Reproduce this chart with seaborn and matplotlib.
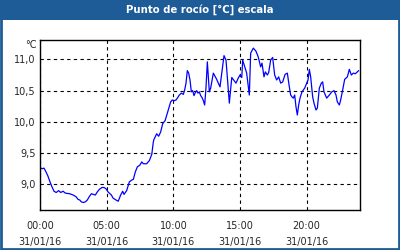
import matplotlib
matplotlib.use("Agg")
import matplotlib.pyplot as plt
import matplotlib.ticker as mticker
from matplotlib.patches import Rectangle
import pandas as pd
import seaborn as sns

TITLE = "Punto de rocío [°C] escala"
UNIT = "°C"
DATE = "31/01/16"

# minutes after midnight, 31/01/16
minutes = [
    0, 9, 18, 27, 36, 45, 54, 63, 73, 84, 93, 104, 114, 134, 149, 163, 171, 179,
    186, 195, 204, 213, 221, 231, 240, 249, 258, 267, 279, 288, 297, 306, 321,
    329, 342, 352, 363, 372, 378, 390, 402, 413, 420, 429, 438, 450, 458, 465,
    480, 492, 503, 510, 513, 525, 534, 543, 552, 563, 573, 581, 588, 595, 604,
    612, 620, 627, 636, 645, 651, 657, 663, 669, 675, 681, 687, 693, 699, 705,
    711, 717, 723, 729, 735, 741, 747, 753, 762, 768, 780, 795, 810, 828, 837,
    843, 852, 863, 882, 892, 900, 908, 912, 930, 942, 948, 960, 972, 982, 993,
    999, 1008, 1014, 1023, 1029, 1038, 1047, 1056, 1065, 1074, 1083, 1092, 1103,
    1113, 1122, 1128, 1134, 1140, 1146, 1152, 1158, 1164, 1170, 1179, 1191,
    1200, 1206, 1212, 1218, 1227, 1233, 1242, 1248, 1257, 1266, 1272, 1278,
    1290, 1302, 1313, 1323, 1332, 1338, 1347, 1353, 1362, 1371, 1383, 1392,
    1401, 1410, 1419, 1428, 1434,
]
dew_point = [
    9.27, 9.25, 9.26, 9.20, 9.13, 9.04, 8.96, 8.89, 8.87, 8.90, 8.87, 8.89, 8.86,
    8.85, 8.83, 8.80, 8.76, 8.75, 8.72, 8.71, 8.72, 8.75, 8.80, 8.85, 8.84, 8.83,
    8.88, 8.92, 8.95, 8.95, 8.93, 8.88, 8.83, 8.78, 8.75, 8.73, 8.83, 8.89, 8.84,
    8.90, 9.04, 9.07, 9.08, 9.20, 9.28, 9.31, 9.36, 9.33, 9.33, 9.38, 9.48, 9.68,
    9.72, 9.81, 9.77, 9.84, 9.97, 10.02, 10.14, 10.24, 10.32, 10.35, 10.34,
    10.35, 10.39, 10.43, 10.46, 10.44, 10.51, 10.62, 10.82, 10.78, 10.67, 10.48,
    10.50, 10.42, 10.47, 10.50, 10.46, 10.48, 10.42, 10.39, 10.34, 10.27, 10.55,
    10.96, 10.48, 10.54, 10.78, 10.68, 10.56, 11.06, 10.99, 10.72, 10.30, 10.71,
    10.62, 10.70, 10.75, 10.71, 10.99, 10.78, 10.43, 11.10, 11.18, 11.13, 11.04,
    10.88, 10.94, 10.72, 10.80, 10.75, 10.79, 10.99, 11.03, 10.75, 10.67, 10.72,
    10.62, 10.64, 10.76, 10.78, 10.56, 10.43, 10.40, 10.38, 10.43, 10.24, 10.11,
    10.27, 10.38, 10.48, 10.54, 10.62, 10.67, 10.84, 10.72, 10.40, 10.30, 10.19,
    10.22, 10.54, 10.62, 10.64, 10.48, 10.38, 10.43, 10.48, 10.50, 10.43, 10.32,
    10.27, 10.35, 10.51, 10.68, 10.72, 10.84, 10.75, 10.78, 10.77, 10.80, 10.82,
]
x_ticks = [0, 5, 10, 15, 20]
x_labels = [f"{h:02d}:00\n{DATE}" for h in x_ticks]
y_ticks = [9.0, 9.5, 10.0, 10.5, 11.0]

BAR_BLUE = "#1d5c96"


def main() -> None:
    df = pd.DataFrame({"hour": [m / 60 for m in minutes], "value": dew_point})

    sns.set_style("white")
    plt.rcParams["font.family"] = ["DejaVu Sans"]

    fig = plt.figure(figsize=(4, 2.5), dpi=100)
    fig.patch.set_facecolor("white")
    # title bar and outer border
    fig.patches.append(Rectangle((0, 0.92), 1, 0.08, transform=fig.transFigure,
                                 facecolor=BAR_BLUE, edgecolor="none", zorder=0))
    fig.patches.append(Rectangle((0.002, 0.004), 0.996, 0.992, transform=fig.transFigure,
                                 facecolor="none", edgecolor=BAR_BLUE, lw=2, zorder=0))
    fig.text(0.5, 0.96, TITLE, color="white", fontsize=7.3, fontweight="bold",
             ha="center", va="center")

    ax = fig.add_axes([0.1, 0.16, 0.8, 0.68])
    sns.lineplot(data=df, x="hour", y="value", ax=ax, color="#0000ff", lw=0.9)

    ax.set_xlim(0, 24)
    ax.set_ylim(8.59, 11.31)
    ax.set_xticks(x_ticks)
    ax.set_xticklabels(x_labels, fontsize=7, linespacing=1.7)
    ax.xaxis.set_minor_locator(mticker.MultipleLocator(1))
    ax.set_yticks(y_ticks)
    ax.yaxis.set_major_formatter(mticker.FuncFormatter(lambda v, p: f"{v:.1f}".replace(".", ",")))
    ax.tick_params(axis="y", length=0, labelsize=7, pad=3)
    ax.tick_params(axis="x", which="both", direction="in", length=3, width=0.8,
                   pad=8, color="black", top=False)
    ax.set_xlabel("")
    ax.set_ylabel("")
    ax.grid(True, color="black", linestyle=(0, (3, 3)), lw=0.8)
    for s in ax.spines.values():
        s.set_color("black")
        s.set_linewidth(1)
    ax.text(-0.01, 1.0, UNIT, transform=ax.transAxes, ha="right", va="top", fontsize=7)

    fig.savefig("out.png", dpi=100)
    plt.close(fig)


if __name__ == "__main__":
    main()
